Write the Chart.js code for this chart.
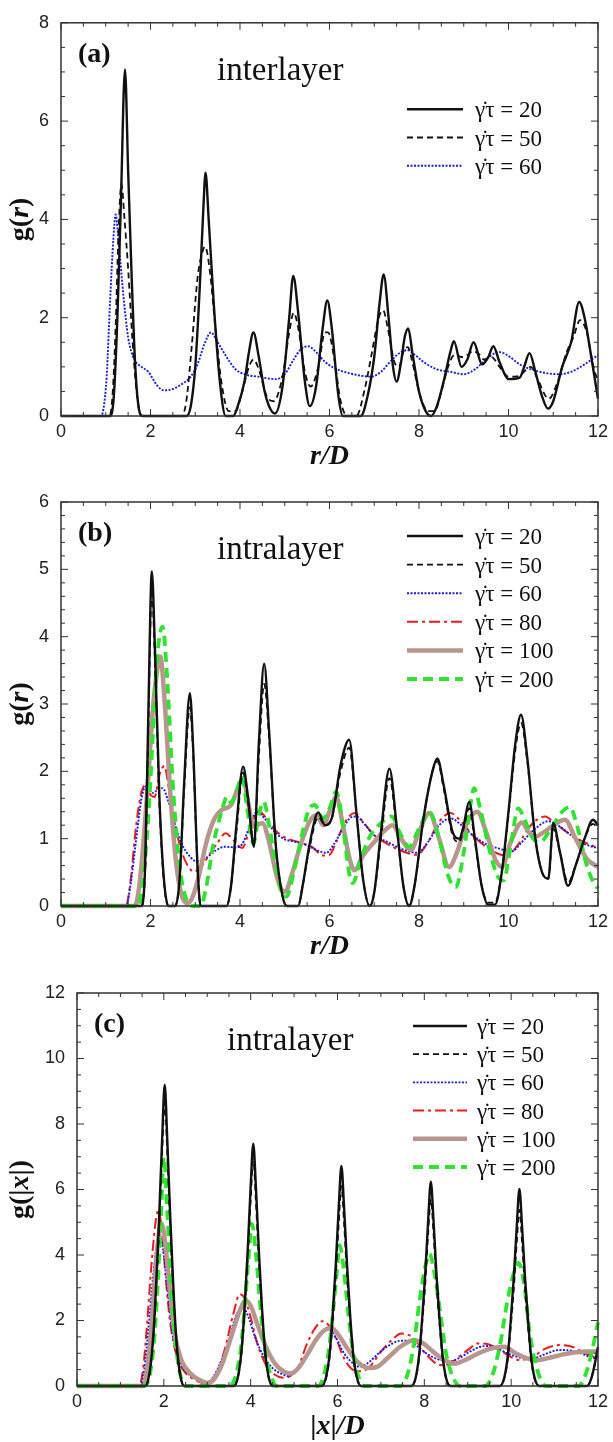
<!DOCTYPE html>
<html>
<head>
<meta charset="utf-8">
<script src="https://cdn.jsdelivr.net/npm/chart.js@4.4.1/dist/chart.umd.min.js"></script>
<style>
  body { margin: 0; background: #fff; width: 613px; height: 1442px; position: relative; overflow: hidden; }
  canvas { position: absolute; left: 0; }
</style>
</head>
<body>
<canvas id="chartA" width="613" height="470" style="top:0px"></canvas>
<canvas id="chartB" width="613" height="490" style="top:470px"></canvas>
<canvas id="chartC" width="613" height="482" style="top:960px"></canvas>
<script>
// shear rates shown in the legends
const rates = [20, 50, 60, 80, 100, 200];

// (a) interlayer g(r), [r/D, g]
const a20 = [[0,0],[1.1,0],[1.18,0.4],[1.26,2.0],[1.34,4.4],[1.43,7.05],[1.5,5.0],[1.58,2.8],[1.66,1.0],[1.75,0.1],[1.82,0],
  [2.8,0],[2.9,0.2],[3.0,1.0],[3.1,2.6],[3.18,4.2],[3.23,4.95],[3.3,4.0],[3.42,2.2],[3.55,0.7],[3.68,0],[3.85,0],
  [3.95,0.2],[4.1,0.7],[4.2,1.3],[4.3,1.7],[4.42,1.2],[4.55,0.5],[4.65,0.2],[4.78,0.05],[4.95,0.6],[5.1,2.0],[5.19,2.85],
  [5.3,2.1],[5.45,0.7],[5.56,0.2],[5.7,0.6],[5.85,1.8],[5.95,2.35],[6.05,1.8],[6.2,0.4],[6.3,0],[6.7,0],[6.85,0.4],
  [7.0,1.2],[7.12,2.3],[7.21,2.88],[7.32,2.0],[7.42,1.0],[7.5,0.7],[7.6,1.1],[7.68,1.6],[7.76,1.78],[7.85,1.3],[8.0,0.5],
  [8.15,0.1],[8.27,0],[8.4,0.2],[8.55,0.7],[8.7,1.3],[8.78,1.52],[8.95,1.0],[9.08,1.15],[9.22,1.5],[9.41,1.05],[9.55,1.2],
  [9.66,1.42],[9.8,1.1],[10.0,0.75],[10.25,0.78],[10.35,1.0],[10.47,1.28],[10.6,0.9],[10.75,0.4],[10.88,0.15],[11.0,0.3],
  [11.2,1.0],[11.4,1.5],[11.58,2.32],[11.7,2.0],[11.85,1.2],[12,0.35]];
const a50 = [[0,0],[1.08,0],[1.15,0.4],[1.22,1.8],[1.28,3.6],[1.35,4.72],[1.42,4.0],[1.5,3.0],[1.6,1.5],[1.7,0.4],[1.8,0],
  [2.7,0],[2.8,0.3],[2.92,1.4],[3.05,2.8],[3.15,3.3],[3.22,3.45],[3.32,3.0],[3.45,1.8],[3.6,0.6],[3.75,0.1],[3.9,0.1],
  [4.05,0.5],[4.2,1.0],[4.3,1.15],[4.42,0.95],[4.6,0.4],[4.75,0.3],[4.95,0.8],[5.1,1.7],[5.2,2.1],[5.3,1.8],[5.45,0.9],
  [5.58,0.6],[5.75,1.0],[5.9,1.7],[5.97,1.7],[6.1,1.2],[6.25,0.3],[6.4,0],[6.6,0],[6.8,0.6],[6.95,1.3],[7.1,2.0],[7.2,2.15],
  [7.3,1.8],[7.45,1.1],[7.55,1.0],[7.65,1.3],[7.75,1.4],[7.85,1.1],[8.0,0.5],[8.2,0.1],[8.35,0.1],[8.5,0.5],[8.65,1.0],
  [8.8,1.25],[8.95,1.2],[9.1,1.25],[9.2,1.32],[9.35,1.25],[9.45,1.15],[9.62,1.2],[9.8,1.0],[10.0,0.8],[10.25,0.82],[10.4,0.95],
  [10.5,1.0],[10.65,0.75],[10.9,0.35],[11.1,0.7],[11.3,1.3],[11.45,1.6],[11.6,1.95],[11.75,1.7],[11.9,1.0],[12,0.7]];
const a60 = [[0,0],[0.88,0],[0.95,0.15],[1.02,0.8],[1.1,2.4],[1.17,3.6],[1.22,4.1],[1.3,3.4],[1.4,2.4],[1.5,1.6],[1.64,1.15],
  [1.8,1.0],[1.95,0.9],[2.15,0.62],[2.3,0.52],[2.5,0.55],[2.7,0.65],[2.9,0.8],[3.05,1.05],[3.2,1.45],[3.35,1.7],[3.5,1.5],
  [3.7,1.2],[3.9,0.95],[4.1,0.85],[4.4,0.8],[4.8,0.75],[5.0,0.85],[5.2,1.15],[5.35,1.35],[5.52,1.42],[5.7,1.3],[5.9,1.1],
  [6.1,0.98],[6.4,0.88],[6.7,0.82],[6.93,0.8],[7.15,0.9],[7.4,1.15],[7.6,1.3],[7.74,1.34],[7.9,1.25],[8.1,1.1],[8.4,0.95],
  [8.7,0.9],[9.0,0.85],[9.25,0.95],[9.5,1.15],[9.7,1.28],[9.81,1.3],[10.0,1.22],[10.25,1.05],[10.5,0.95],[10.8,0.88],
  [11.14,0.85],[11.4,0.9],[11.7,1.05],[12,1.24]];

// (b) intralayer g(r)
const b20 = [[0,0],[1.8,0],[1.88,0.6],[1.95,2.8],[2.03,4.97],[2.1,3.8],[2.2,1.6],[2.3,0.4],[2.4,0],[2.55,0],[2.65,0.4],
  [2.75,1.8],[2.88,3.16],[2.95,2.4],[3.05,0.6],[3.12,0],[3.7,0],[3.8,0.3],[3.92,1.2],[4.07,2.07],[4.18,1.6],[4.31,0.88],
  [4.42,2.4],[4.54,3.6],[4.65,2.6],[4.8,0.9],[4.95,0.15],[5.05,0],[5.3,0],[5.4,0.3],[5.55,0.9],[5.75,1.39],[5.9,1.2],
  [6.05,1.3],[6.25,2.1],[6.44,2.47],[6.6,1.4],[6.75,0.4],[6.9,0],[7.0,0.2],[7.15,1.1],[7.34,2.04],[7.5,1.2],[7.65,0.3],
  [7.78,0],[7.9,0.3],[8.1,1.3],[8.3,2.0],[8.41,2.19],[8.55,1.8],[8.75,1.1],[8.9,1.0],[9.0,1.2],[9.12,1.55],[9.25,1.0],
  [9.4,0.3],[9.55,0.02],[9.7,0.02],[9.85,0.5],[10.0,1.4],[10.15,2.4],[10.28,2.84],[10.42,2.2],[10.6,1.0],[10.75,0.5],
  [10.89,0.41],[11.0,1.23],[11.15,0.8],[11.33,0.3],[11.5,0.6],[11.7,1.0],[11.89,1.28],[12,1.2]];
const b50 = [[0,0],[1.8,0],[1.88,0.5],[1.95,2.6],[2.03,4.7],[2.1,3.6],[2.2,1.5],[2.3,0.35],[2.4,0],[2.55,0],[2.65,0.4],
  [2.75,1.7],[2.88,2.95],[2.95,2.3],[3.05,0.6],[3.12,0],[3.7,0],[3.8,0.3],[3.92,1.1],[4.07,1.98],[4.18,1.55],[4.31,0.95],
  [4.42,2.2],[4.54,3.3],[4.65,2.5],[4.8,0.9],[4.95,0.15],[5.05,0],[5.3,0],[5.4,0.3],[5.55,0.85],[5.75,1.32],[5.9,1.2],
  [6.05,1.3],[6.25,2.0],[6.44,2.35],[6.6,1.4],[6.75,0.4],[6.9,0],[7.0,0.2],[7.15,1.0],[7.34,1.9],[7.5,1.15],[7.65,0.3],
  [7.78,0],[7.9,0.3],[8.1,1.3],[8.3,2.0],[8.41,2.15],[8.55,1.75],[8.75,1.05],[8.9,0.95],[9.0,1.15],[9.12,1.45],[9.25,0.95],
  [9.4,0.3],[9.55,0.05],[9.7,0.05],[9.85,0.5],[10.0,1.35],[10.15,2.3],[10.28,2.72],[10.42,2.15],[10.6,1.0],[10.75,0.5],
  [10.89,0.4],[11.0,1.15],[11.15,0.8],[11.33,0.35],[11.5,0.6],[11.7,1.0],[11.89,1.22],[12,1.15]];
const b60 = [[0,0],[1.45,0],[1.55,0.3],[1.7,1.1],[1.8,1.6],[1.9,1.78],[2.05,1.68],[2.15,1.72],[2.27,1.75],[2.4,1.55],
  [2.55,1.2],[2.7,0.92],[2.9,0.72],[3.05,0.66],[3.25,0.72],[3.45,0.82],[3.65,0.88],[3.9,0.87],[4.05,0.92],[4.2,1.15],
  [4.38,1.4],[4.55,1.3],[4.75,1.12],[4.97,1.0],[5.25,0.95],[5.5,0.9],[5.75,0.82],[5.93,0.79],[6.1,0.92],[6.3,1.15],
  [6.45,1.3],[6.6,1.33],[6.8,1.2],[7.0,1.05],[7.3,0.95],[7.6,0.85],[7.97,0.79],[8.2,0.95],[8.45,1.2],[8.71,1.3],[8.95,1.2],
  [9.2,1.05],[9.5,0.92],[9.8,0.85],[10.07,0.81],[10.3,0.95],[10.6,1.15],[10.89,1.26],[11.1,1.2],[11.4,1.05],[11.7,0.92],[12,0.86]];
const b80 = [[0,0],[1.45,0],[1.55,0.35],[1.68,1.2],[1.8,1.7],[1.9,1.8],[2.0,1.65],[2.09,1.62],[2.2,1.95],[2.31,2.08],
  [2.42,1.7],[2.55,1.2],[2.7,0.8],[2.85,0.58],[2.97,0.51],[3.15,0.6],[3.35,0.8],[3.49,0.93],[3.68,1.08],[3.85,0.98],
  [4.05,0.86],[4.2,1.1],[4.42,1.4],[4.6,1.3],[4.8,1.12],[5.0,1.02],[5.3,0.95],[5.6,0.88],[5.86,0.75],[6.0,0.76],[6.15,0.95],
  [6.35,1.25],[6.56,1.38],[6.75,1.25],[7.0,1.05],[7.3,0.92],[7.6,0.82],[7.95,0.76],[8.2,0.95],[8.45,1.25],[8.7,1.38],
  [8.95,1.25],[9.2,1.05],[9.5,0.88],[9.75,0.78],[9.97,0.75],[10.2,0.9],[10.5,1.2],[10.82,1.33],[11.0,1.25],[11.3,1.1],
  [11.6,0.98],[12,0.86]];
const b100 = [[0,0],[1.65,0],[1.75,0.3],[1.85,1.0],[1.95,1.9],[2.05,2.9],[2.15,3.5],[2.22,3.7],[2.32,3.0],[2.45,1.6],
  [2.58,0.6],[2.7,0.15],[2.83,0.04],[2.95,0.15],[3.1,0.5],[3.25,0.95],[3.43,1.3],[3.6,1.43],[3.8,1.5],[3.95,1.75],[4.07,1.9],
  [4.18,1.55],[4.3,1.18],[4.5,1.23],[4.65,0.95],[4.8,0.5],[4.92,0.25],[5.01,0.21],[5.15,0.45],[5.35,0.9],[5.55,1.25],
  [5.71,1.35],[5.86,1.2],[6.0,1.4],[6.15,1.62],[6.3,1.2],[6.45,0.7],[6.56,0.53],[6.75,0.75],[7.0,0.95],[7.2,1.1],[7.41,1.2],
  [7.6,1.0],[7.82,0.83],[8.0,1.1],[8.23,1.38],[8.45,1.0],[8.67,0.58],[8.85,0.8],[9.05,1.2],[9.3,1.4],[9.5,1.1],[9.7,0.7],
  [9.85,0.58],[10.05,0.95],[10.3,1.24],[10.45,1.1],[10.59,1.03],[10.8,1.1],[11.05,1.22],[11.26,1.28],[11.5,1.0],[11.75,0.7],[12,0.58]];
const b200 = [[0,0],[1.72,0],[1.82,0.3],[1.95,1.3],[2.05,2.5],[2.15,3.7],[2.27,4.15],[2.38,3.3],[2.5,1.8],[2.65,0.6],
  [2.8,0.1],[2.97,0],[3.12,0],[3.25,0.3],[3.4,0.9],[3.6,1.43],[3.71,1.62],[3.8,1.53],[3.92,1.7],[4.05,1.92],[4.15,1.5],
  [4.3,0.93],[4.42,1.35],[4.53,1.55],[4.65,1.2],[4.8,0.6],[4.93,0.2],[5.04,0.14],[5.2,0.5],[5.4,1.1],[5.55,1.45],[5.67,1.5],
  [5.85,1.3],[6.0,1.45],[6.15,1.7],[6.3,1.2],[6.45,0.45],[6.52,0.34],[6.7,0.7],[6.9,1.03],[7.1,1.2],[7.38,1.33],[7.6,1.05],
  [7.78,0.88],[8.0,1.15],[8.23,1.4],[8.45,1.0],[8.65,0.45],[8.82,0.28],[9.0,0.8],[9.15,1.5],[9.23,1.75],[9.35,1.5],[9.55,0.9],
  [9.75,0.45],[9.89,0.38],[10.05,0.9],[10.22,1.45],[10.35,1.3],[10.55,1.0],[10.7,0.95],[10.95,1.15],[11.2,1.4],[11.37,1.47],
  [11.55,1.15],[11.75,0.6],[11.9,0.35],[12,0.26]];

// (c) intralayer g(|x|)
const c20 = [[0,0],[1.57,0],[1.67,0.4],[1.75,1.4],[1.82,3.0],[1.89,5.1],[1.96,7.5],[2.02,9.2],[2.08,7.5],[2.15,5.1],[2.22,3.0],
  [2.29,1.4],[2.37,0.4],[2.47,0],[3.61,0],[3.71,0.3],[3.79,1.1],[3.86,2.4],[3.93,4.1],[4.0,6.1],[4.06,7.4],[4.12,6.1],[4.19,4.1],
  [4.26,2.4],[4.33,1.1],[4.41,0.3],[4.51,0],[5.64,0],[5.74,0.3],[5.82,1.0],[5.89,2.2],[5.96,3.7],[6.03,5.5],[6.09,6.72],
  [6.15,5.5],[6.22,3.7],[6.29,2.2],[6.36,1.0],[6.44,0.3],[6.54,0],[7.7,0],[7.8,0.25],[7.88,0.95],[7.95,2.05],[8.02,3.4],
  [8.09,5.1],[8.15,6.24],[8.21,5.1],[8.28,3.4],[8.35,2.05],[8.42,0.95],[8.5,0.25],[8.6,0],[9.74,0],[9.84,0.25],[9.92,0.9],
  [9.99,2.0],[10.06,3.3],[10.13,4.9],[10.19,6.02],[10.25,4.9],[10.32,3.3],[10.39,2.0],[10.46,0.9],[10.54,0.25],[10.64,0],
  [11.75,0],[11.85,0.25],[11.93,0.7],[12,1.2]];
const c50 = [[0,0],[1.57,0],[1.67,0.35],[1.75,1.3],[1.82,2.85],[1.89,4.75],[1.96,7.1],[2.02,8.65],[2.08,7.1],[2.15,4.75],
  [2.22,2.85],[2.29,1.3],[2.37,0.35],[2.47,0],[3.61,0],[3.71,0.28],[3.79,1.0],[3.86,2.3],[3.93,3.8],[4.0,5.66],[4.06,6.9],
  [4.12,5.66],[4.19,3.8],[4.26,2.3],[4.33,1.0],[4.41,0.28],[4.51,0],[5.64,0],[5.74,0.25],[5.82,0.9],[5.89,2.0],[5.96,3.35],
  [6.03,5.0],[6.09,6.1],[6.15,5.0],[6.22,3.35],[6.29,2.0],[6.36,0.9],[6.44,0.25],[6.54,0],[7.7,0],[7.8,0.23],[7.88,0.85],
  [7.95,1.9],[8.02,3.1],[8.09,4.7],[8.15,5.7],[8.21,4.7],[8.28,3.1],[8.35,1.9],[8.42,0.85],[8.5,0.23],[8.6,0],[9.74,0],
  [9.84,0.22],[9.92,0.8],[9.99,1.8],[10.06,2.95],[10.13,4.4],[10.19,5.38],[10.25,4.4],[10.32,2.95],[10.39,1.8],[10.46,0.8],
  [10.54,0.22],[10.64,0],[11.75,0],[11.85,0.25],[11.93,0.7],[12,1.15]];
const c60 = [[0,0],[1.45,0],[1.55,0.5],[1.65,1.8],[1.75,3.3],[1.85,4.4],[1.9,4.57],[1.98,4.2],[2.08,3.0],[2.2,1.6],[2.35,0.8],
  [2.5,0.45],[2.7,0.25],[2.85,0.15],[3.01,0.1],[3.15,0.3],[3.3,0.7],[3.5,1.4],[3.65,2.1],[3.81,2.42],[3.95,2.1],[4.1,1.5],
  [4.3,0.9],[4.5,0.55],[4.7,0.38],[4.88,0.3],[5.05,0.45],[5.25,0.85],[5.45,1.3],[5.65,1.65],[5.78,1.72],[5.95,1.5],[6.15,1.0],
  [6.35,0.7],[6.5,0.59],[6.7,0.7],[6.95,1.0],[7.2,1.25],[7.45,1.38],[7.65,1.38],[7.85,1.2],[8.1,0.95],[8.35,0.8],[8.55,0.74],
  [8.8,0.85],[9.05,1.05],[9.3,1.2],[9.5,1.22],[9.75,1.1],[10.0,0.95],[10.25,0.86],[10.5,0.85],[10.8,0.98],[11.1,1.1],
  [11.4,1.08],[11.7,0.95],[11.89,0.85],[12,0.9]];
const c80 = [[0,0],[1.42,0],[1.52,0.5],[1.62,2.0],[1.72,3.8],[1.82,5.1],[1.87,5.35],[1.95,4.8],[2.05,3.2],[2.15,1.9],[2.3,0.9],
  [2.5,0.4],[2.7,0.2],[2.9,0.08],[3.02,0.05],[3.2,0.35],[3.4,1.1],[3.6,2.2],[3.75,2.8],[3.85,2.7],[4.0,2.1],[4.15,1.3],
  [4.35,0.65],[4.55,0.35],[4.75,0.25],[4.9,0.3],[5.1,0.6],[5.3,1.3],[5.5,1.8],[5.65,1.98],[5.8,1.85],[5.95,1.5],[6.15,0.85],
  [6.35,0.5],[6.55,0.45],[6.75,0.6],[7.0,1.05],[7.25,1.4],[7.47,1.6],[7.65,1.55],[7.85,1.3],[8.05,0.95],[8.38,0.64],
  [8.6,0.7],[8.85,0.95],[9.05,1.15],[9.22,1.3],[9.45,1.28],[9.75,1.1],[10.0,0.88],[10.21,0.79],[10.5,0.9],[10.8,1.15],
  [11.12,1.25],[11.4,1.2],[11.7,1.0],[12,0.85]];
const c100 = [[0,0],[1.5,0],[1.6,0.4],[1.7,1.6],[1.8,3.4],[1.9,4.8],[1.95,4.95],[2.02,4.5],[2.12,3.2],[2.25,1.6],[2.4,0.8],
  [2.6,0.4],[2.8,0.2],[3.0,0.1],[3.15,0.2],[3.35,0.7],[3.55,1.5],[3.75,2.3],[3.88,2.6],[4.0,2.45],[4.15,1.9],[4.35,1.2],
  [4.55,0.7],[4.75,0.45],[4.92,0.38],[5.1,0.55],[5.3,0.95],[5.5,1.4],[5.7,1.7],[5.85,1.78],[6.0,1.6],[6.2,1.2],[6.45,0.75],
  [6.7,0.55],[6.9,0.58],[7.15,0.85],[7.45,1.2],[7.75,1.4],[7.95,1.32],[8.2,1.05],[8.45,0.8],[8.69,0.68],[8.95,0.8],
  [9.25,1.0],[9.55,1.15],[9.83,1.2],[10.1,1.0],[10.35,0.85],[10.59,0.79],[10.85,0.85],[11.15,0.95],[11.45,1.02],[11.75,1.05],[12,1.05]];
const c200 = [[0,0],[1.55,0],[1.67,0.3],[1.77,1.3],[1.85,2.9],[1.93,5.0],[2.0,6.99],[2.08,5.3],[2.17,3.0],[2.27,1.3],[2.38,0.35],
  [2.5,0],[3.52,0],[3.65,0.3],[3.76,1.0],[3.85,2.2],[3.94,3.7],[4.03,4.95],[4.13,3.9],[4.23,2.3],[4.34,1.0],[4.47,0.3],[4.6,0],
  [5.55,0],[5.68,0.3],[5.8,1.1],[5.9,2.3],[5.98,3.4],[6.05,4.3],[6.14,3.6],[6.25,2.2],[6.36,1.0],[6.48,0.3],[6.62,0],
  [7.45,0],[7.6,0.3],[7.75,1.2],[7.88,2.5],[8.0,3.5],[8.12,4.03],[8.24,3.4],[8.37,2.2],[8.5,1.0],[8.65,0.3],[8.82,0],
  [9.4,0],[9.56,0.3],[9.75,1.3],[9.9,2.5],[10.05,3.4],[10.17,3.76],[10.3,3.1],[10.43,1.6],[10.6,0.5],[10.8,0],
  [11.55,0],[11.7,0.3],[11.85,1.0],[12,1.94]];

// line look for each shear rate
const styles = {
  20:  { color: '#111111', width: 2.4, dash: [], order: 0 },
  50:  { color: '#111111', width: 1.8, dash: [6, 4], order: 1 },
  60:  { color: '#1a1aee', width: 1.9, dash: [2, 1.5], order: 4 },
  80:  { color: '#ee1a1a', width: 2.0, dash: [11, 4, 3, 4], order: 5 },
  100: { color: '#b8958d', width: 4.5, dash: [], order: 3 },
  200: { color: '#2ee52e', width: 3.8, dash: [10, 6], order: 2 }
};

const serif = '"Liberation Serif", "Times New Roman", serif';
const sans = '"Liberation Sans", Arial, sans-serif';

function makeDataset(rate, pts) {
  const s = styles[rate];
  return {
    label: 'γ\u0307τ = ' + rate,
    data: pts.map(p => ({ x: p[0], y: p[1] })),
    borderColor: s.color,
    borderWidth: s.width,
    borderDash: s.dash,
    order: s.order,
    pointRadius: 0,
    fill: false,
    cubicInterpolationMode: 'monotone',
    clip: false
  };
}

// frame with inward major/minor ticks on all four sides
const frameTicks = {
  id: 'frameTicks',
  afterDatasetsDraw(chart, args, o) {
    const { ctx, chartArea: ca, scales: { x, y } } = chart;
    ctx.save();
    ctx.strokeStyle = '#333333';
    ctx.lineWidth = 1.5;
    ctx.strokeRect(ca.left, ca.top, ca.right - ca.left, ca.bottom - ca.top);
    ctx.lineWidth = 1;
    ctx.beginPath();
    const nx = Math.round((x.max - x.min) / o.xMinor);
    for (let i = 0; i <= nx; i++) {
      const v = x.min + i * o.xMinor;
      const px = x.getPixelForValue(v);
      const major = Math.abs(v / o.xMajor - Math.round(v / o.xMajor)) < 1e-6;
      const len = major ? 7 : 4;
      ctx.moveTo(px, ca.bottom); ctx.lineTo(px, ca.bottom - len);
      ctx.moveTo(px, ca.top); ctx.lineTo(px, ca.top + len);
    }
    const ny = Math.round((y.max - y.min) / o.yMinor);
    for (let i = 0; i <= ny; i++) {
      const v = y.min + i * o.yMinor;
      const py = y.getPixelForValue(v);
      const major = Math.abs(v / o.yMajor - Math.round(v / o.yMajor)) < 1e-6;
      const len = major ? 7 : 4;
      ctx.moveTo(ca.left, py); ctx.lineTo(ca.left + len, py);
      ctx.moveTo(ca.right, py); ctx.lineTo(ca.right - len, py);
    }
    ctx.stroke();
    ctx.restore();
  }
};

// draw a run of [text, italic] pieces starting at x
function drawParts(ctx, parts, x, y, size, align) {
  const fonts = parts.map(p => (p[1] ? 'italic ' : '') + 'bold ' + size + 'px ' + serif);
  let total = 0;
  parts.forEach((p, i) => { ctx.font = fonts[i]; total += ctx.measureText(p[0]).width; });
  let cx = align === 'center' ? x - total / 2 : x;
  parts.forEach((p, i) => {
    ctx.font = fonts[i];
    ctx.fillText(p[0], cx, y);
    cx += ctx.measureText(p[0]).width;
  });
}

// panel tag, caption, legend and axis titles
const panelText = {
  id: 'panelText',
  afterDraw(chart, args, o) {
    const { ctx, chartArea: ca } = chart;
    ctx.save();
    ctx.fillStyle = '#111';
    ctx.textBaseline = 'alphabetic';
    ctx.textAlign = 'left';
    ctx.font = 'bold 28px ' + serif;
    ctx.fillText(o.tag, ca.left + 17, ca.top + 39);
    ctx.font = '33px ' + serif;
    ctx.fillText(o.caption, o.captionX, ca.top + 57);

    // legend
    chart.data.datasets.forEach((ds, i) => {
      const ry = ca.top + o.legendTop + i * o.legendStep;
      ctx.save();
      ctx.strokeStyle = ds.borderColor;
      ctx.lineWidth = ds.borderWidth;
      ctx.setLineDash(ds.borderDash);
      ctx.beginPath();
      ctx.moveTo(o.legendX1, ry);
      ctx.lineTo(o.legendX2, ry);
      ctx.stroke();
      ctx.restore();
      ctx.font = '23px ' + serif;
      ctx.fillText(ds.label, o.legendText, ry + 8);
    });

    // x title
    drawParts(ctx, o.xTitle, (ca.left + ca.right) / 2, ca.bottom + 48, 28, 'center');
    // y title, rotated
    ctx.save();
    ctx.translate(28, (ca.top + ca.bottom) / 2);
    ctx.rotate(-Math.PI / 2);
    drawParts(ctx, o.yTitle, 0, 0, 28, 'center');
    ctx.restore();
    ctx.restore();
  }
};

function makeChart(id, p) {
  const canvas = document.getElementById(id);
  const H = canvas.height;
  return new Chart(canvas.getContext('2d'), {
    type: 'line',
    data: { datasets: p.series.map(s => makeDataset(s[0], s[1])) },
    plugins: [frameTicks, panelText],
    options: {
      responsive: false,
      animation: false,
      devicePixelRatio: 1,
      layout: { padding: { top: p.top, right: 11, left: 0, bottom: 0 } },
      plugins: {
        legend: { display: false },
        tooltip: { enabled: false },
        frameTicks: { xMinor: 0.5, xMajor: 2, yMinor: p.yMinor, yMajor: p.yStep },
        panelText: {
          tag: p.tag, caption: p.caption, captionX: p.captionX,
          legendTop: p.legendTop, legendStep: p.legendStep,
          legendX1: p.legendX1, legendX2: p.legendX2, legendText: p.legendText,
          xTitle: p.xTitle, yTitle: p.yTitle
        }
      },
      scales: {
        x: {
          type: 'linear', min: 0, max: 12,
          ticks: { stepSize: 2, color: '#222', padding: 5, maxRotation: 0, autoSkip: false,
                   font: { family: sans, size: 18 } },
          grid: { display: false, drawTicks: false },
          border: { display: false },
          afterFit(s) { s.height = H - p.bottom; }
        },
        y: {
          type: 'linear', min: 0, max: p.yMax,
          ticks: { stepSize: p.yStep, color: '#222', padding: 12,
                   font: { family: sans, size: 18 } },
          grid: { display: false, drawTicks: false },
          border: { display: false },
          afterFit(s) { s.width = p.left; }
        }
      }
    }
  });
}

const rTitle = [['r', true], ['/', true], ['D', true]];

makeChart('chartA', {
  series: [[20, a20], [50, a50], [60, a60]],
  top: 12, bottom: 416, left: 61, yMax: 8, yStep: 2, yMinor: 0.5,
  tag: '(a)', caption: 'interlayer', captionX: 217,
  legendTop: 86.5, legendStep: 28.2, legendX1: 407, legendX2: 463, legendText: 475,
  xTitle: rTitle, yTitle: [['g(', false], ['r', true], [')', false]]
});

makeChart('chartB', {
  series: [[20, b20], [50, b50], [60, b60], [80, b80], [100, b100], [200, b200]],
  top: 32, bottom: 436, left: 61, yMax: 6, yStep: 1, yMinor: 0.2,
  tag: '(b)', caption: 'intralayer', captionX: 217,
  legendTop: 34, legendStep: 28.6, legendX1: 407, legendX2: 463, legendText: 475,
  xTitle: rTitle, yTitle: [['g(', false], ['r', true], [')', false]]
});

makeChart('chartC', {
  series: [[20, c20], [50, c50], [60, c60], [80, c80], [100, c100], [200, c200]],
  top: 33, bottom: 426, left: 77, yMax: 12, yStep: 2, yMinor: 0.5,
  tag: '(c)', caption: 'intralayer', captionX: 227,
  legendTop: 33, legendStep: 28.2, legendX1: 413, legendX2: 467, legendText: 477,
  xTitle: [['|', false], ['x', true], ['|', false], ['/', true], ['D', true]],
  yTitle: [['g(|', false], ['x', true], ['|)', false]]
});
</script>
</body>
</html>
